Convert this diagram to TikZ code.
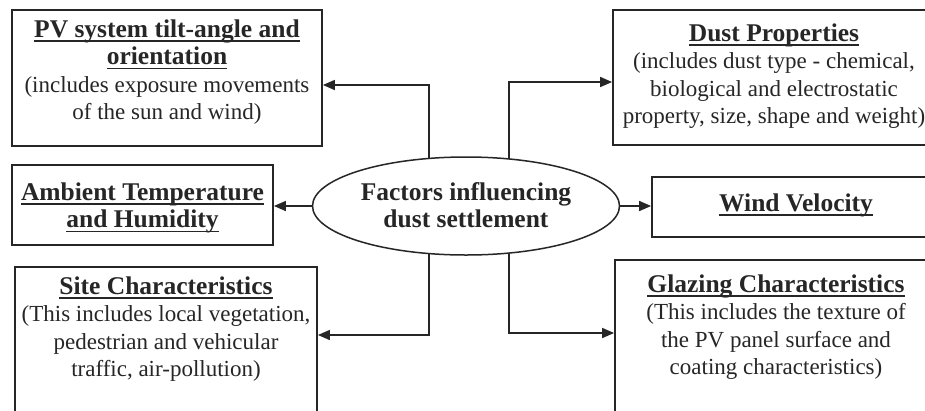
\documentclass[tikz,border=0pt]{standalone}
\usepackage{fontspec}
\setmainfont{Liberation Serif}
\newcommand\myul[1]{\setbox0\hbox{#1}\rlap{\rule[-4.6pt]{\wd0}{1.6pt}}\box0}
\newcommand\hd[1]{{\fontsize{25.5}{27.3}\selectfont\bfseries\myul{#1}}}
\usetikzlibrary{arrows.meta,backgrounds,shapes.geometric}
\begin{document}
\begin{tikzpicture}[x=1pt,y=-1pt,
  box/.style={draw=black!85, line width=1.8pt, rectangle, inner sep=0pt},
  txt/.style={align=center, font=\fontsize{23}{27.3}\selectfont, text=black!85, inner sep=0pt},
  conn/.style={line width=1.6pt, draw=black!85, -{Triangle[length=12pt,width=10pt]}},
  hub/.style={ellipse, draw=black!85, line width=1.5pt, fill=white, minimum width=307pt, minimum height=98pt, inner sep=0pt}]
\useasboundingbox (0,0) rectangle (925,410);
\clip (0,0) rectangle (925,410);
% boxes
\node[box, minimum width=310pt, minimum height=136pt] (pv) at (167,78) {};
\node[box, minimum width=322pt, minimum height=135pt] (dust) at (774,77.5) {};
\node[box, minimum width=261pt, minimum height=80pt] (amb) at (142.5,205) {};
\node[box, minimum width=302pt, minimum height=173pt] (site) at (166,353.5) {};
\node[box, minimum width=288pt, minimum height=60pt] (wind) at (796,207) {};
\node[box, minimum width=322pt, minimum height=180pt] (glaz) at (776,350) {};
\node[hub] (hub) at (466,206) {};
% texts
\node[txt] (pvt) at (167,72) {\hd{PV system tilt-angle and}\\\hd{orientation}\\(includes exposure movements\\of the sun and wind)};
\node[txt] (dustt) at (774,76) {\hd{Dust Properties}\\(includes dust type - chemical,\\biological and electrostatic\\property, size, shape and weight)};
\node[txt] (ambt) at (142.5,208) {\hd{Ambient Temperature}\\\hd{and Humidity}};
\node[txt] (sitet) at (166,329) {\hd{Site Characteristics}\\(This includes local vegetation,\\pedestrian and vehicular\\traffic, air-pollution)};
\node[txt] (windt) at (796,205) {\hd{Wind Velocity}};
\node[txt] (glazt) at (776,327) {\hd{Glazing Characteristics}\\(This includes the texture of\\the PV panel surface and\\coating characteristics)};
\node[txt, font=\bfseries\fontsize{25.5}{27.3}\selectfont] (hubt) at (466,205) {Factors influencing\\dust settlement};
% connector helpers
\coordinate (jl) at (429,206);
\coordinate (jr) at (509,206);
\coordinate (ypv) at (0,85);
\coordinate (ydust) at (0,82);
\coordinate (ysite) at (0,335);
\coordinate (yglaz) at (0,333);
\begin{scope}[on background layer]
\fill[white] (0,0) rectangle (925,410);
\draw[conn] (jl) |- (pv.east |- ypv);
\draw[conn] (jr) |- (dust.west |- ydust);
\draw[conn] (jl) |- (site.east |- ysite);
\draw[conn] (jr) |- (glaz.west |- yglaz);
\draw[conn] (hub.west) -- (amb.east |- hub.west);
\draw[conn] (hub.east) -- (wind.west |- hub.east);
\end{scope}
\end{tikzpicture}
\end{document}
